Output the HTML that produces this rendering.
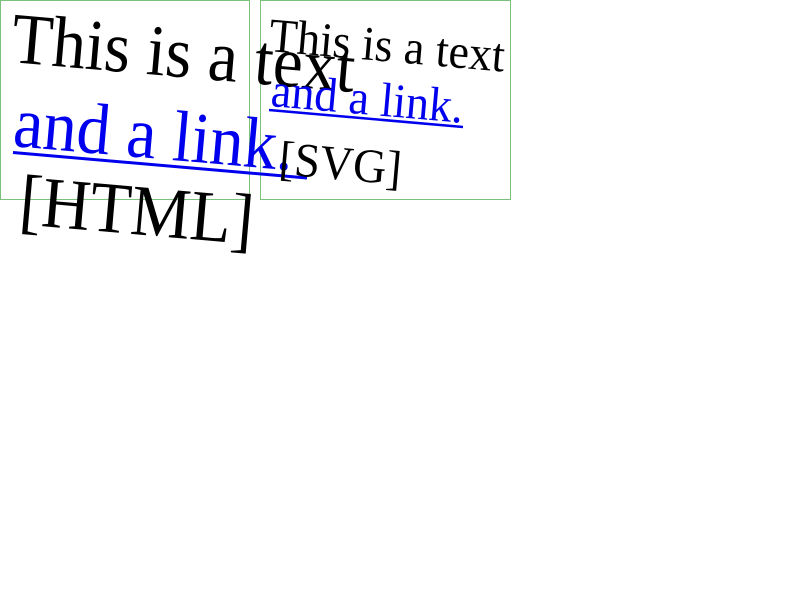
<!DOCTYPE html>
<html><head><style>html,body{margin:0;padding:0;background:#fff;width:800px;height:600px;overflow:hidden}
text{font-family:"Liberation Serif","Times New Roman",serif}</style></head>
<body>
<svg width="800" height="600" xmlns="http://www.w3.org/2000/svg" style="position:absolute;left:0;top:0">
<rect x="0.5" y="0.5" width="249" height="199" fill="none" stroke="#7cc07c" stroke-width="1"/>
<rect x="260.5" y="0.5" width="250" height="199" fill="none" stroke="#7cc07c" stroke-width="1"/>
<g transform="rotate(5 10 62) translate(10 62) scale(1 1.08)">
<text x="0" y="0" font-size="67" fill="#000">This is a text</text>
</g>
<g transform="rotate(5 12 146) translate(12 146) scale(1 1.08)">
<text x="0" y="0" font-size="67" fill="#0000ee">and a link.</text>
</g>
<g transform="rotate(5 18 224) translate(18 224) scale(1 1.08)">
<text x="0" y="0" font-size="67" fill="#000">[HTML]</text>
</g>
<line x1="13" y1="152.5" x2="307" y2="178" stroke="#0000ee" stroke-width="3"/>
<g transform="rotate(5 268 51) translate(268 51) scale(1 1.05)">
<text x="0" y="0" font-size="46" fill="#000">This is a text</text>
</g>
<g transform="rotate(5 270 106) translate(270 106) scale(1 1.05)">
<text x="0" y="0" font-size="46" fill="#0000ee">and a link.</text>
</g>
<line x1="269" y1="110" x2="463" y2="127" stroke="#0000ee" stroke-width="2.5"/>
<g transform="rotate(5 278 174) translate(278 174) scale(1 1.05)">
<text x="0" y="0" font-size="46" fill="#000">[SVG]</text>
</g>
</svg>
</body></html>
